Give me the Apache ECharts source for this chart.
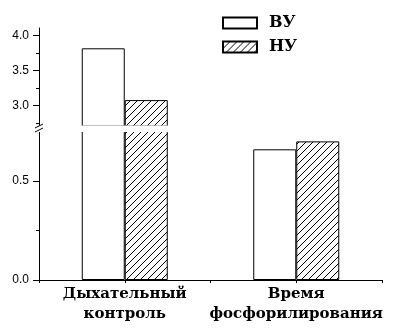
<!DOCTYPE html>
<html>
<head>
<meta charset="utf-8">
<script src="https://cdn.jsdelivr.net/npm/echarts@6/dist/echarts.min.js"></script>
<style>
  html, body { margin: 0; padding: 0; background: #fff; }
  #chart { width: 397px; height: 336px; }
</style>
</head>
<body>
<div id="chart"></div>
<script>
// Groups on the horizontal axis (placed at x = 1 and x = 3)
const categories = ['Дыхательный\nконтроль', 'Время\nфосфорилирования'];
const categoryPositions = [1, 3];
const seriesNames = ['ВУ', 'НУ'];
const valuesVU = [3.82, 0.66];
const valuesNU = [3.08, 0.70];

// Tick values for both pieces of the broken y axis
const upperMajorTicks = [3.0, 3.5, 4.0];
const upperMinorTicks = [2.75, 3.25, 3.75];
const lowerMajorTicks = [0.0, 0.5];
const lowerMinorTicks = [0.25];

// Layout of the two stacked plot areas
const left = 39, right = 15;
const upperTop = 28, upperHeight = 98;
const lowerTop = 131, lowerHeight = 149;
const upperRange = [2.71, 4.11];
const lowerRange = [0, 0.7525];

// Diagonal hatch tile for the НУ bars
function hatchPattern() {
  const s = 7;
  const c = document.createElement('canvas');
  c.width = s; c.height = s;
  const g = c.getContext('2d');
  g.fillStyle = '#fff';
  g.fillRect(0, 0, s, s);
  g.strokeStyle = '#000';
  g.lineWidth = 1;
  g.beginPath();
  g.moveTo(-1, s + 1); g.lineTo(s + 1, -1);
  g.stroke();
  return c;
}
const hatch = { image: hatchPattern(), repeat: 'repeat' };

const chart = echarts.init(document.getElementById('chart'), null, { renderer: 'canvas' });

const labelFont = { fontFamily: 'DejaVu Serif', fontWeight: 'bold', color: '#000' };

function xAxisFor(gridIndex, showLabels) {
  return {
    type: 'value', gridIndex, min: 0, max: 4, interval: 1,
    axisLine: { show: showLabels, lineStyle: { color: '#000', width: 1 } },
    axisTick: { show: showLabels, length: 3, lineStyle: { color: '#000' } },
    splitLine: { show: false },
    axisLabel: {
      show: showLabels, margin: 4,
      fontSize: 15, lineHeight: 20, ...labelFont,
      formatter: v => {
        const i = categoryPositions.indexOf(v);
        return i >= 0 ? categories[i] : '';
      }
    }
  };
}

function yAxisFor(gridIndex, range, major) {
  return {
    type: 'value', gridIndex, position: 'left', min: range[0], max: range[1],
    axisLine: { show: true, lineStyle: { color: '#000', width: 1 } },
    axisTick: { show: true, length: 6, customValues: major, lineStyle: { color: '#000' } },
    splitLine: { show: false },
    axisLabel: {
      customValues: major, margin: 10, fontSize: 12,
      fontFamily: 'Liberation Sans', color: '#000',
      formatter: v => v.toFixed(1)
    }
  };
}

function minorAxisFor(gridIndex, range, minor) {
  return {
    type: 'value', gridIndex, position: 'left', min: range[0], max: range[1],
    axisLine: { show: false, onZero: false },
    axisTick: { show: true, length: 3, customValues: minor, lineStyle: { color: '#000' } },
    axisLabel: { show: false },
    splitLine: { show: false }
  };
}

const vuStyle = { color: '#fff', borderColor: '#000', borderWidth: 1 };
const nuStyle = { color: hatch, borderColor: '#000', borderWidth: 1 };

function barSeries(name, values, style, idx) {
  return {
    name, type: 'bar', xAxisIndex: idx, yAxisIndex: idx,
    barWidth: 43, barGap: '0%',
    itemStyle: style, emphasis: { disabled: true },
    data: categoryPositions.map((x, i) => [x, values[i]]),
    clip: true, animation: false
  };
}

// Gap and slash marks where the y axis is broken
const breakTop = upperTop + upperHeight;
const breakBottom = lowerTop;
const graphics = [
  { type: 'rect', z: 100, silent: true,
    shape: { x: left - 8, y: breakTop - 0.5, width: 397 - left, height: breakBottom - breakTop + 1.5 },
    style: { fill: '#fff' } },
  { type: 'line', z: 101, silent: true,
    shape: { x1: left - 4, y1: breakTop + 2, x2: left + 4, y2: breakTop - 2 },
    style: { stroke: '#000', lineWidth: 1 } },
  { type: 'line', z: 101, silent: true,
    shape: { x1: left - 4, y1: breakTop + 6, x2: left + 4, y2: breakTop + 2 },
    style: { stroke: '#000', lineWidth: 1 } }
];

chart.setOption({
  animation: false,
  backgroundColor: '#fff',
  grid: [
    { left, right, top: upperTop, height: upperHeight },
    { left, right, top: lowerTop, height: lowerHeight }
  ],
  xAxis: [xAxisFor(0, false), xAxisFor(1, true)],
  yAxis: [
    yAxisFor(0, upperRange, upperMajorTicks),
    yAxisFor(1, lowerRange, lowerMajorTicks),
    minorAxisFor(0, upperRange, upperMinorTicks),
    minorAxisFor(1, lowerRange, lowerMinorTicks)
  ],
  legend: {
    orient: 'vertical', left: 222, top: 15, padding: 0,
    icon: 'rect',
    itemWidth: 34, itemHeight: 11, itemGap: 8,
    data: seriesNames,
    textStyle: { fontSize: 16, lineHeight: 16, padding: [0, 0, 0, 7], ...labelFont },
    selectedMode: false
  },
  series: [
    barSeries(seriesNames[0], valuesVU, vuStyle, 0),
    barSeries(seriesNames[1], valuesNU, nuStyle, 0),
    barSeries(seriesNames[0], valuesVU, vuStyle, 1),
    barSeries(seriesNames[1], valuesNU, nuStyle, 1)
  ],
  graphic: graphics
});
</script>
</body>
</html>
